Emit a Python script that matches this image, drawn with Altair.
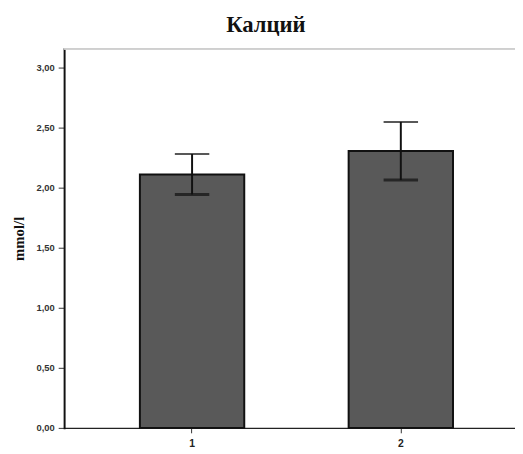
import altair as alt
import pandas as pd

groups = ["1", "2"]
means = [2.11, 2.305]
lower = [1.943, 2.063]
upper = [2.28, 2.547]

df = pd.DataFrame({"group": groups, "mean": means, "lo": lower, "hi": upper})

W, H = 458, 385
xscale = alt.Scale(domain=groups, paddingInner=0.5, paddingOuter=0.33, align=0.55)
yscale = alt.Scale(domain=[0, 3.155], nice=False, zero=True)

x = alt.X("group:N", scale=xscale, title=None,
          axis=alt.Axis(labelAngle=0, labelFont="Liberation Sans", labelFontSize=10.5,
                        labelFontWeight="bold", labelColor="#222", tickColor="#333",
                        tickSize=5, domainColor="#222", domainWidth=1.5, labelPadding=6))

bars = alt.Chart(df).mark_bar(fill="#595959", stroke="#111", strokeWidth=2).encode(
    x=x,
    y=alt.Y("mean:Q", scale=yscale, title="mmol/l",
            axis=alt.Axis(values=[0, 0.5, 1, 1.5, 2, 2.5, 3], format=".2f",
                          labelExpr="replace(datum.label, '.', ',')",
                          labelFont="Liberation Sans", labelFontSize=9.5, labelFontWeight="bold",
                          labelColor="#333", tickColor="#333", tickSize=6, grid=False,
                          domainColor="#111", domainWidth=2, labelPadding=4,
                          titleFont="Liberation Serif", titleFontSize=15, titleFontWeight="bold",
                          titleColor="#111", titlePadding=10)),
)

rules = alt.Chart(df).mark_rule(color="#111", strokeWidth=2).encode(
    x=alt.X("group:N", scale=xscale), y=alt.Y("lo:Q", scale=yscale), y2="hi:Q")

caps_hi = alt.Chart(df).mark_tick(color="#111", thickness=2, size=35, orient="horizontal").encode(
    x=alt.X("group:N", scale=xscale), y=alt.Y("hi:Q", scale=yscale))
caps_lo = alt.Chart(df).mark_tick(color="#111", thickness=3, size=35, orient="horizontal").encode(
    x=alt.X("group:N", scale=xscale), y=alt.Y("lo:Q", scale=yscale))

top_border = alt.Chart(df).mark_rule(color="#cfcfcf", strokeWidth=2).encode(
    x=alt.value(0), x2=alt.value(W), y=alt.value(0))

chart = alt.layer(bars, rules, caps_hi, caps_lo, top_border).properties(
    width=W, height=H,
    autosize=alt.AutoSizeParams(type="none"),
    padding={"left": 57, "top": 38, "right": 0, "bottom": 22},
    title=alt.TitleParams("Калций", font="Liberation Serif", fontSize=23, fontWeight="bold",
                          color="#111", anchor="middle", dx=-24, offset=11),
).configure_view(stroke=None).configure_axis(domainCap="square")

chart.save("out.html", embed_options={"renderer": "svg", "actions": False})
